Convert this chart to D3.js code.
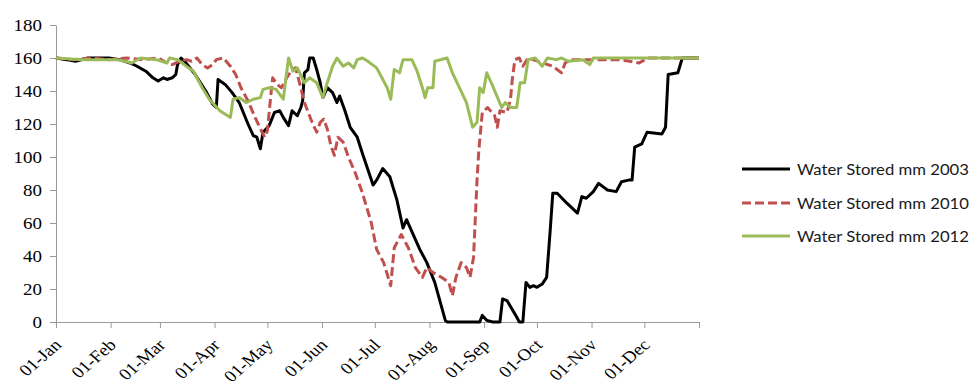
<!DOCTYPE html>
<html>
<head>
<meta charset="utf-8">
<script src="https://cdn.jsdelivr.net/npm/d3@7"></script>
<style>
  html, body { margin: 0; padding: 0; background: #fff; }
  svg { display: block; }
  .axis text { font-family: "Liberation Serif", "DejaVu Serif", serif; }
</style>
</head>
<body>
<svg id="chart" width="971" height="381"></svg>
<script>
// ---- data: [day of year, water stored mm] ----
const seriesNames = ["Water Stored mm 2003", "Water Stored mm 2010", "Water Stored mm 2012"];

const water2003 = [
  [0,160],[6,159],[11,158],[18,160],[30,160],[36,159],[42,157],[46,155],[51,152],[55,148],[58,146],
  [61,148],[63,147],[66,148],[68,150],[69,156],[71,160],[73,158],[79,150],[85,140],[89,132],[91,130],
  [92,147],[96,144],[100,139],[104,133],[109,120],[112,113],[114,112],[116,105],[117.5,115],[121,119],
  [124,127],[127,128],[129,124],[132,119],[134,128],[137,125],[139,130],[140,134],[141,151],[143,153],
  [144,160],[146,160],[148,153],[150,145],[151.5,136],[154,142],[157,139],[159.5,133],[161,137],[164,128],
  [167,118],[171,112],[174,102],[180,83],[182,86],[185.5,93],[189.5,88],[193.5,74],[197,57],[199,62],
  [206.5,44],[210.5,36],[215,24],[221,1],[222,0],[240.5,0],[242,4],[244.5,1],[248,0],[252,0],[253.5,14],
  [256,13],[261.5,3],[263,0],[265,0],[266.8,24],[269,21],[271,22],[273,21],[276,23],[278.5,27],[280.5,55],
  [282,78],[284.5,78],[290,72],[296,66],[298.5,76],[301,75],[305,79],[308,84],[313,80],[318,79],[321,85],
  [325,86],[327,86],[328.5,106],[332.5,108],[335.5,115],[344,114],[346,118],[347.5,150],[353,151],
  [355.5,160],[365,160]
];

const water2010 = [
  [0,160],[10,159],[20,160],[30,159],[40,160],[50,159],[58,160],[63,157],[66,156],[70,158],[74,159],
  [77,158],[80,160],[83,156],[86,154],[89,156],[91,159],[95,160],[99,155],[102,150],[105,142],[109,134],
  [113,124],[117,115],[118.5,112],[120,116],[122,138],[123,148],[125.5,144],[128,142],[131,148],[134,153],
  [136,154],[138,146],[141,133],[145,122],[148,115],[150,121],[152,123],[154,117],[156,107],[158,101],
  [160,112],[163,109],[166,100],[170,90],[174,78],[179,60],[182,44],[186,36],[190,22],[192,45],[196,53],
  [200,45],[204,33],[208,27],[210.5,33],[214,30],[219,27],[223,24],[225,16],[227,27],[230,36],[233,33],
  [235,27],[237,39],[239,86],[240,104],[242,127],[245,130],[249,125],[250.5,118],[252,128],[256,127],
  [258,135],[259,147],[260.5,159],[263,160],[265,155],[268,160],[282,155],[287,151],[289,157],[292,159],
  [300,159],[320,159],[331,157],[336,160],[365,160]
];

const water2012 = [
  [0,160],[15,159],[35,159],[43,157],[48,160],[57,159],[63,157],[64.5,160],[69,159],[74,155],[78,152],
  [83,142],[87,135],[93,128],[99,124],[100.5,135],[104,136],[108,133],[112,135],[116,136],[117.5,141],
  [121,142],[125,141],[129,135],[132,160],[134.5,152],[137,154],[141,145],[144,148],[148,145],[151.5,136],
  [154,145],[157,155],[159.5,160],[163,155],[166,157],[169,154],[171,159],[174,160],[177,158],[182,154],
  [185,148],[188,142],[190,135],[192,153],[195,151],[197,159],[202,159],[205,152],[208,142],[209.5,136],
  [211,142],[214,142],[215,158],[222,160],[225,151],[229,142],[233,133],[236.5,118],[239,121],[240.5,142],
  [242.5,139],[244.5,151],[247.5,144],[253,130],[255,133],[258,130],[261.5,130],[263.5,145],[266,145],
  [268,159],[272,160],[276,155],[279,160],[284,159],[287,160],[291,158],[299,159],[303,156],[305,160],
  [365,160]
];

const monthLabels = ["01-Jan","01-Feb","01-Mar","01-Apr","01-May","01-Jun","01-Jul","01-Aug","01-Sep","01-Oct","01-Nov","01-Dec",""];
const yTicks = [0,20,40,60,80,100,120,140,160,180];

// ---- chart ----
const base = new Date(2003, 0, 1);
const toDate = d => new Date(base.getTime() + d * 864e5);
const monthDates = monthLabels.map((_, i) => new Date(2003, i, 1));

const svg = d3.select("#chart");
const x = d3.scaleTime().domain([base, new Date(2004, 0, 1)]).range([56, 699]);
const y = d3.scaleLinear().domain([0, 180]).range([322, 25]);

const axisColor = "#9a9a9a";
const stretch = 1.15;
const serif = "Liberation Serif";

// y axis
const gy = svg.append("g").attr("class", "axis").attr("transform", "translate(56,0)")
  .call(d3.axisLeft(y).tickValues(yTicks).tickSizeOuter(0).tickSizeInner(6).tickPadding(0));
gy.attr("font-family", serif);
gy.select(".domain").attr("stroke", axisColor);
gy.selectAll(".tick line").attr("stroke", axisColor);
gy.selectAll(".tick text")
  .attr("x", null).attr("dy", null)
  .attr("transform", `translate(-14,5.5) scale(${stretch},1)`)
  .attr("text-anchor", "end")
  .attr("font-family", serif)
  .attr("font-size", 16.5)
  .attr("fill", "#000");

// x axis
const gx = svg.append("g").attr("class", "axis").attr("transform", "translate(0,322)")
  .call(d3.axisBottom(x).tickValues(monthDates)
    .tickFormat((d, i) => monthLabels[i]).tickSizeOuter(0).tickSizeInner(6));
gx.attr("font-family", serif);
gx.select(".domain").attr("stroke", axisColor);
gx.selectAll(".tick line").attr("stroke", axisColor);
gx.selectAll(".tick text")
  .attr("y", null).attr("dy", null)
  .attr("transform", `translate(6,24) scale(${stretch},1) rotate(-45)`)
  .attr("text-anchor", "end")
  .attr("font-family", serif)
  .attr("font-size", 16.5)
  .attr("fill", "#000");

// lines
const line = d3.line().x(d => x(toDate(d[0]))).y(d => y(d[1])).curve(d3.curveLinear);
const styles = [
  { data: water2003, color: "#000000", dash: null },
  { data: water2010, color: "#C0504D", dash: "9,4" },
  { data: water2012, color: "#9BBB59", dash: null }
];
styles.forEach(s => {
  svg.append("path")
    .datum(s.data)
    .attr("d", line)
    .attr("fill", "none")
    .attr("stroke", s.color)
    .attr("stroke-width", 3)
    .attr("stroke-linejoin", "round")
    .attr("stroke-dasharray", s.dash);
});

// legend
const legend = svg.append("g");
const legendY = [169, 203, 236];
styles.forEach((s, i) => {
  legend.append("line")
    .attr("x1", 742).attr("x2", 790)
    .attr("y1", legendY[i]).attr("y2", legendY[i])
    .attr("stroke", s.color).attr("stroke-width", 3)
    .attr("stroke-dasharray", s.dash);
  legend.append("text")
    .attr("x", 797).attr("y", legendY[i] + 5.5)
    .attr("textLength", 172).attr("lengthAdjust", "spacingAndGlyphs")
    .style("font-family", "Lato, 'Open Sans', sans-serif")
    .style("font-size", "16px")
    .attr("fill", "#1a1a1a")
    .text(seriesNames[i]);
});
</script>
</body>
</html>
